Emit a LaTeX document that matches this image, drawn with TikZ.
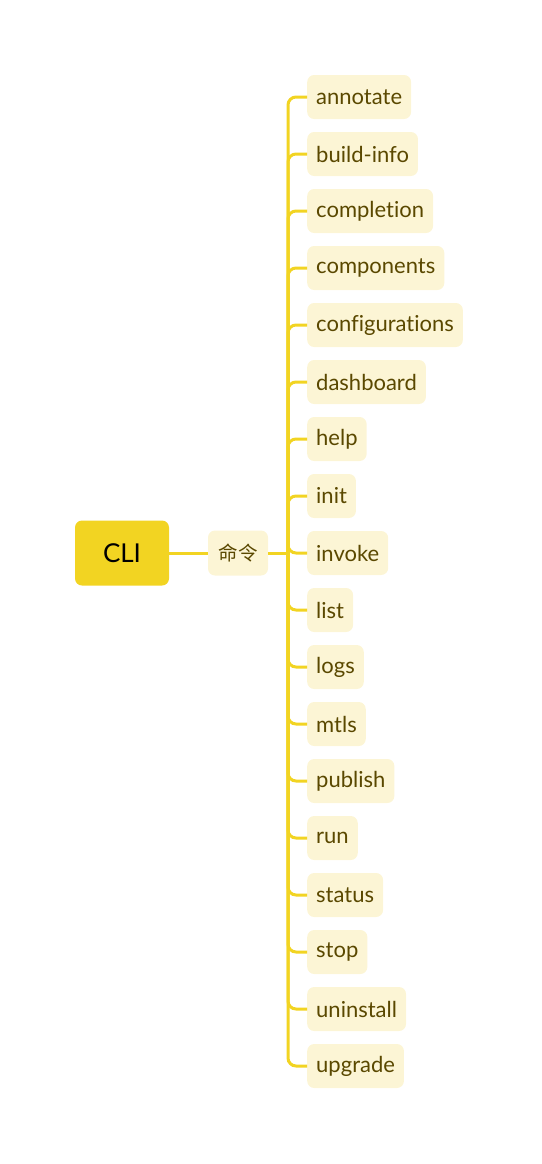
\documentclass[tikz,border=0pt]{standalone}
\usepackage{fontspec}
\setmainfont[Ligatures=NoCommon]{Lato}
\newfontfamily\cjk{Noto Sans CJK SC}
\usetikzlibrary{positioning, calc}
\definecolor{mYellow}{HTML}{F2D422}
\definecolor{mPale}{HTML}{FCF5D5}
\definecolor{mOlive}{HTML}{5A4800}
\tikzset{
  rootbox/.style={rectangle, rounded corners=7pt, fill=mYellow, text=black,
              minimum width=94pt, minimum height=65pt, font=\fontsize{26}{30}\selectfont, align=center},
  topicbox/.style={rectangle, rounded corners=7pt, fill=mPale, text=mOlive,
              minimum width=60pt, minimum height=45pt, font=\cjk\fontsize{19.5}{22}\selectfont, align=center},
  leafbox/.style={rectangle, rounded corners=7pt, fill=mPale, text=mOlive, anchor=west,
              inner xsep=9pt, minimum height=44pt, font=\fontsize{22}{24}\selectfont},
  link/.style={draw=mYellow, line width=3pt, rounded corners=8pt},
}

\begin{document}
\begin{tikzpicture}[x=1pt, y=-1pt]
  \useasboundingbox (0,0) rectangle (541,1164);
  \node[rootbox] (cli) at (122,553) {CLI};
  \node[topicbox] (cmd) at (238,553) {命令};
  \coordinate (trunk) at (288,553);
  \draw[link] (cli) -- (cmd);
  \draw[link] (cmd) -- (trunk);
  % commands, one per row
  \foreach \name [count=\i from 0] in {annotate, build-info, completion, components,
      configurations, dashboard, help, init, invoke, list, logs, mtls, publish,
      run, status, stop, uninstall, upgrade}
  {
    \node[leafbox] (c\i) at (307, 97+57*\i) {\name};
    \draw[link] (trunk) |- (c\i.west);
  }
\end{tikzpicture}
\end{document}
